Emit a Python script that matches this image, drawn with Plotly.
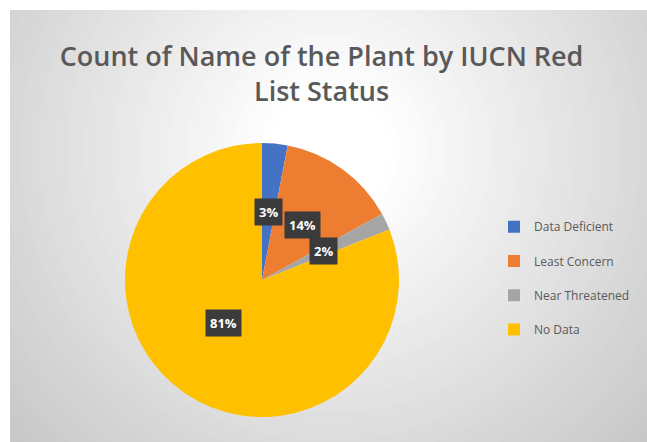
import math
import plotly.graph_objects as go

# ---- data ----
labels = ["Data Deficient", "Least Concern", "Near Threatened", "No Data"]
values = [3, 14, 2, 81]
colors = ["#4472C4", "#ED7D31", "#A5A5A5", "#FFC000"]
title_text = "Count of Name of the Plant by IUCN Red<br>List Status"

# ---- layout geometry (pixels) ----
W, H = 647, 442
cx, cy, R = 262, 280, 137   # pie centre / radius in pixels


def px2x(px):
    return px / W


def py2y(py):
    return 1 - py / H


# legend text: a trailing blank line gives the roomier Excel legend spacing
legend_labels = [f"{name}<br> " for name in labels]

fig = go.Figure()
fig.add_trace(go.Pie(
    labels=legend_labels,
    values=values,
    marker=dict(colors=colors, line=dict(width=0)),
    sort=False,
    direction="clockwise",
    rotation=0,
    textinfo="none",
    hovertemplate="%{customdata}: %{percent}<extra></extra>",
    customdata=labels,
    domain=dict(x=[px2x(cx - R), px2x(cx + R)], y=[py2y(cy + R), py2y(cy - R)]),
))

# data-label boxes placed at the middle angle of each slice
total = sum(values)
annotations = []
cum = 0
for v in values:
    mid = (cum + v / 2) / total
    cum += v
    th = 2 * math.pi * mid
    lx = cx + 0.5 * R * math.sin(th)
    ly = cy - 0.5 * R * math.cos(th)
    annotations.append(dict(
        x=px2x(lx), y=py2y(ly), xref="paper", yref="paper",
        text=f"{round(100 * v / total)}%", showarrow=False,
        bgcolor="#3b3b3b", borderpad=4,
        font=dict(family="Open Sans", size=13, color="white", weight="bold"),
    ))

# radial-gradient background (chart area) built from nested ellipses
c_outer = 200
shapes = [dict(type="rect", xref="paper", yref="paper", x0=0, x1=1, y0=0, y1=1,
               fillcolor=f"rgb({c_outer},{c_outer},{c_outer})", line=dict(width=0), layer="below")]
gx, gy = 330, 150
r_white, r_outer = 60, 430
steps = 40
for k in range(steps + 1):
    r = r_outer - (r_outer - r_white) * k / steps
    c = int(round(255 - (255 - c_outer) * (r - r_white) / (r_outer - r_white)))
    c = max(c_outer, min(255, c))
    shapes.append(dict(type="circle", xref="paper", yref="paper",
                       x0=px2x(gx - r), x1=px2x(gx + r), y0=py2y(gy + r), y1=py2y(gy - r),
                       fillcolor=f"rgb({c},{c},{c})", line=dict(width=0), layer="below"))
# white page margin on the left and top
shapes.append(dict(type="rect", xref="paper", yref="paper", x0=0, x1=px2x(10), y0=0, y1=1,
                   fillcolor="white", line=dict(width=0), layer="below"))
shapes.append(dict(type="rect", xref="paper", yref="paper", x0=0, x1=1, y0=py2y(10), y1=1,
                   fillcolor="white", line=dict(width=0), layer="below"))

fig.update_layout(
    width=W, height=H,
    margin=dict(l=0, r=0, t=0, b=0),
    paper_bgcolor="white",
    plot_bgcolor="white",
    title=dict(text=title_text, x=0.497, xanchor="center", y=py2y(66), yanchor="top",
               font=dict(family="Open Sans", size=27, color="#595959", weight=600)),
    legend=dict(x=px2x(494), xanchor="left", y=py2y(286), yanchor="middle",
                valign="top", bgcolor="rgba(0,0,0,0)",
                font=dict(family="Open Sans", size=12, color="#595959")),
    shapes=shapes,
    annotations=annotations,
    showlegend=True,
)

fig.write_html("out.html")
